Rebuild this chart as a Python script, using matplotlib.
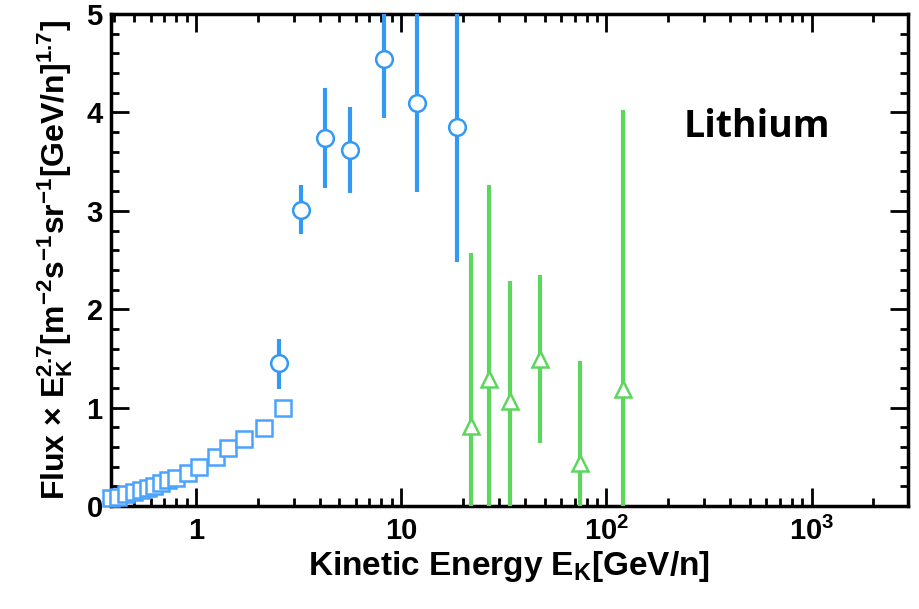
import numpy as np
import matplotlib
matplotlib.use("Agg")
import matplotlib.pyplot as plt
from matplotlib.ticker import LogLocator, MultipleLocator, FixedLocator, FixedFormatter

# low-energy points (squares)
sq_e = [0.385, 0.417, 0.456, 0.50, 0.54, 0.583, 0.624, 0.675, 0.73, 0.80,
        0.91, 1.03, 1.25, 1.43, 1.71, 2.15, 2.66]
sq_flux = [0.08, 0.09, 0.12, 0.14, 0.16, 0.18, 0.20, 0.23, 0.26, 0.29,
           0.34, 0.40, 0.50, 0.59, 0.68, 0.79, 1.00]

# circles
ci_e = [2.55, 3.24, 4.23, 5.61, 8.21, 11.9, 18.6]
ci_flux = [1.45, 3.01, 3.74, 3.62, 4.54, 4.10, 3.85]
ci_hi = [1.70, 3.26, 4.25, 4.06, 5.4, 5.6, 5.8]
ci_lo = [1.19, 2.76, 3.23, 3.18, 3.94, 3.19, 2.48]

# triangles
tr_e = [21.8, 26.8, 33.8, 47.6, 74.6, 120.0]
tr_flux = [0.81, 1.29, 1.07, 1.49, 0.44, 1.19]
tr_hi = [2.57, 3.26, 2.29, 2.35, 1.47, 4.02]
tr_lo = [0.0, 0.0, 0.0, 0.64, 0.0, 0.0]

xticks = [1, 10, 100, 1000]
xticklabels = ['1', '10', '$10^2$', '$10^3$']

plt.rcParams['font.family'] = ['Liberation Sans', 'DejaVu Sans']
plt.rcParams['font.weight'] = 'bold'
plt.rcParams['mathtext.fontset'] = 'custom'
plt.rcParams['mathtext.rm'] = 'Liberation Sans:bold'
plt.rcParams['mathtext.it'] = 'Liberation Sans:bold'
plt.rcParams['mathtext.bf'] = 'Liberation Sans:bold'
plt.rcParams['mathtext.default'] = 'rm'

blue = '#3399f3'
blue_sq = '#4aa3ff'
green = '#5cd65c'

fig = plt.figure(figsize=(9.19, 6.09), dpi=100)
ax = fig.add_axes([0.1208, 0.169, 0.988 - 0.1208, 0.977 - 0.169])

ax.plot(sq_e, sq_flux, ls='none', marker='s', ms=12, mfc='white',
        mec=blue_sq, mew=1.8, zorder=3, clip_on=False)

ci_err = [np.array(ci_flux) - np.array(ci_lo), np.array(ci_hi) - np.array(ci_flux)]
ax.errorbar(ci_e, ci_flux, yerr=ci_err, ls='none', marker='o', ms=12,
            mfc='white', mec=blue, mew=1.8, ecolor=blue, elinewidth=3, capsize=0, zorder=3)

tr_err = [np.array(tr_flux) - np.array(tr_lo), np.array(tr_hi) - np.array(tr_flux)]
ax.errorbar(tr_e, tr_flux, yerr=tr_err, ls='none', marker='^', ms=12,
            mfc='white', mec=green, mew=1.8, ecolor=green, elinewidth=3, capsize=0, zorder=3)

ax.set_xscale('log')
ax.set_xlim(0.385, 2950)
ax.set_ylim(0, 5)

ax.xaxis.set_major_locator(FixedLocator(xticks))
ax.xaxis.set_major_formatter(FixedFormatter(xticklabels))
ax.xaxis.set_minor_locator(LogLocator(base=10, subs=np.arange(2, 10), numticks=20))
ax.yaxis.set_major_locator(MultipleLocator(1))
ax.yaxis.set_minor_locator(MultipleLocator(0.2))

ax.tick_params(which='both', direction='in', top=True, right=True, width=2)
ax.tick_params(which='major', length=13, labelsize=21, pad=8)
ax.tick_params(axis='y', which='major', pad=6)
ax.tick_params(which='minor', length=6)
for s in ax.spines.values():
    s.set_linewidth(2.5)

ax.set_xlabel('Kinetic Energy E$_K$[GeV/n]', fontsize=24, fontweight='bold', labelpad=2)
ax.set_ylabel(r'Flux $\times$ E$_K^{2.7}$[m$^{-2}$s$^{-1}$sr$^{-1}$[GeV/n]$^{1.7}$]',
              fontsize=23, fontweight='bold', labelpad=8)

ax.text(0.81, 0.77, 'Lithium', transform=ax.transAxes, ha='center', va='center',
        fontsize=27, fontweight='bold', family=['Open Sans', 'DejaVu Sans'])

fig.savefig('out.png', dpi=100)
